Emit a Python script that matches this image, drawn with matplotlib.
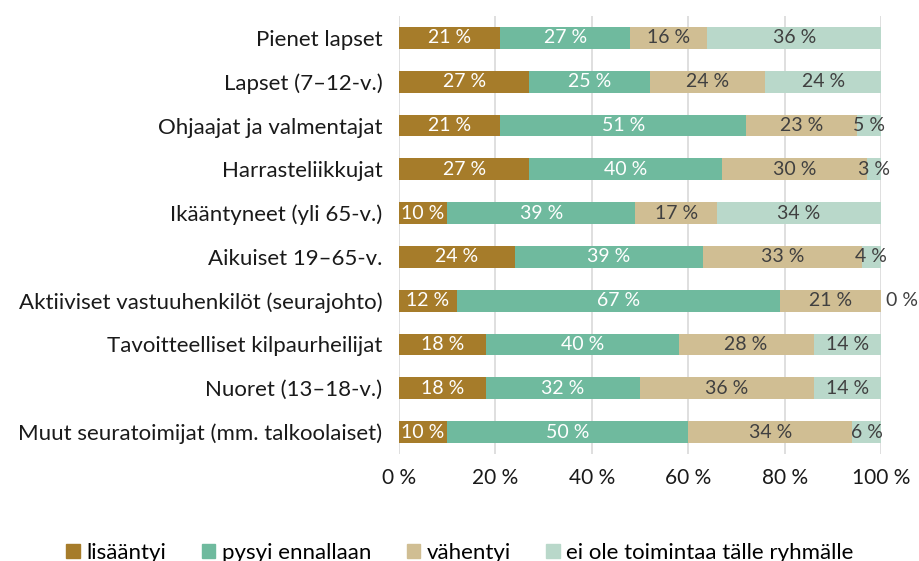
import matplotlib.pyplot as plt
import numpy as np
from matplotlib.patches import Patch

plt.rcParams['font.family'] = ['Lato', 'DejaVu Sans']

categories = ["Pienet lapset", "Lapset (7–12-v.)", "Ohjaajat ja valmentajat",
              "Harrasteliikkujat", "Ikääntyneet (yli 65-v.)", "Aikuiset 19–65-v.",
              "Aktiiviset vastuuhenkilöt (seurajohto)", "Tavoitteelliset kilpaurheilijat",
              "Nuoret (13–18-v.)", "Muut seuratoimijat (mm. talkoolaiset)"]
lisaantyi = [21, 27, 21, 27, 10, 24, 12, 18, 18, 10]
pysyi = [27, 25, 51, 40, 39, 39, 67, 40, 32, 50]
vahentyi = [16, 24, 23, 30, 17, 33, 21, 28, 36, 34]
ei_ole = [36, 24, 5, 3, 34, 4, 0, 14, 14, 6]
series_names = ["lisääntyi", "pysyi ennallaan", "vähentyi", "ei ole toimintaa tälle ryhmälle"]
colors = ["#A67C2A", "#6FBA9E", "#D0BE93", "#B9D8CA"]
label_colors = ["white", "white", "#404040", "#404040"]

fig = plt.figure(figsize=(9.2, 5.61), dpi=100)
ax = fig.add_axes([399/920, 1-454/561, 482/920, 438/561])

y = np.arange(len(categories))
left = np.zeros(len(categories))
for vals, col, lc in zip([lisaantyi, pysyi, vahentyi, ei_ole], colors, label_colors):
    vals = np.array(vals, dtype=float)
    ax.barh(y, vals, left=left, height=0.5, color=col, zorder=3)
    for yi, (l, v) in enumerate(zip(left, vals)):
        if v == 0:
            ax.text(l + v + 1.0, yi, "0 %", ha='left', va='center', fontsize=14, color=lc)
        else:
            ax.text(l + v / 2, yi, f"{int(v)} %", ha='center', va='center', fontsize=14, color=lc, zorder=4)
    left += vals

ax.set_xlim(0, 100)
ax.set_ylim(len(categories) - 0.5, -0.5)
ax.set_yticks(y)
ax.set_yticklabels(categories, fontsize=16, color='#1a1a1a')
ax.set_xticks(np.arange(0, 101, 20))
ax.set_xticklabels([f"{v} %" for v in range(0, 101, 20)], fontsize=15, color='#1a1a1a')
ax.tick_params(length=0, pad=10)
ax.tick_params(axis='y', pad=12)
ax.grid(axis='x', color='#D9D9D9', linewidth=1.2, zorder=0)
for s in ax.spines.values():
    s.set_visible(False)

handles = [Patch(color=c, label=n) for c, n in zip(colors, series_names)]
fig.legend(handles=handles, loc='center', bbox_to_anchor=(0.5, 0.015), ncol=4, frameon=False,
           fontsize=16, handlelength=0.6, handleheight=0.6, handletextpad=0.3, columnspacing=1.6)

fig.savefig("out.png", dpi=100)
